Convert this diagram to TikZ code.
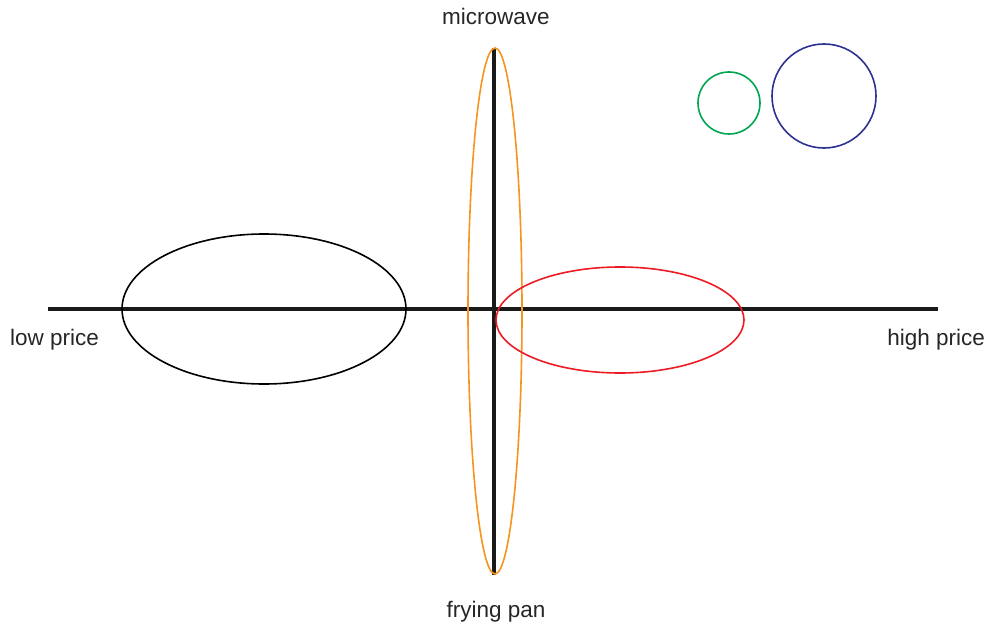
\documentclass[tikz,border=0pt]{standalone}
\usepackage{fontspec}
\setmainfont{Liberation Sans}
\usetikzlibrary{positioning}
\definecolor{panorange}{HTML}{F7941D}
\definecolor{pricered}{HTML}{ED1C24}
\definecolor{dotgreen}{HTML}{00A651}
\definecolor{dotblue}{HTML}{2E3192}
\tikzset{axis/.style={line width=3.5pt, black!90},
    blob/.style={line width=1.6pt},
    lbl/.style={font=\fontsize{22.5}{26}\selectfont, inner sep=0pt, anchor=base, black!85}}

\begin{document}
\begin{tikzpicture}[x=1pt, y=-1pt]
        \useasboundingbox (0,0) rectangle (988,626);
        \coordinate (west) at (48,309);
        \coordinate (east) at (938,309);
        \coordinate (north) at (494,48);
        \coordinate (south) at (494,575);
        \draw[axis] (west) -- (east);
        \draw[axis] (north) -- (south);
        \node[lbl] (microwave) at (496,25) {microwave};
        \node[lbl] (fryingpan) at (496,617) {frying pan};
        \node[lbl, anchor=base west] (lowprice) at (10,345) {low price};
        \node[lbl, anchor=base east] (highprice) at (985,345) {high price};
        \draw[blob, black] (264,309) ellipse [x radius=142, y radius=75];
        \draw[blob, panorange] (495,311) ellipse [x radius=27, y radius=263];
        \draw[blob, pricered] (620,320) ellipse [x radius=124, y radius=53];
        \draw[blob, dotgreen] (729,103) circle [radius=31];
        \draw[blob, dotblue] (824,96) circle [radius=52];
    \end{tikzpicture}
\end{document}
